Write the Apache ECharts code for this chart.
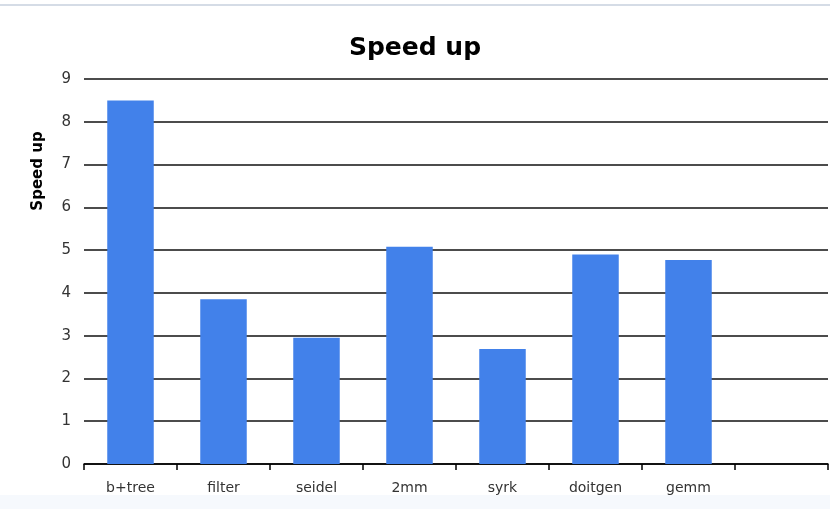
<!DOCTYPE html>
<html>
<head>
<meta charset="utf-8">
<script src="https://cdn.jsdelivr.net/npm/echarts@6/dist/echarts.min.js"></script>
<style>
  html, body { margin: 0; padding: 0; background: #ffffff; }
  #chart { width: 830px; height: 509px; }
</style>
</head>
<body>
<div id="chart"></div>
<script>
// Benchmarks (last slot intentionally left empty)
var categories = ['b+tree', 'filter', 'seidel', '2mm', 'syrk', 'doitgen', 'gemm', ''];
var speedup = [8.5, 3.85, 2.95, 5.08, 2.69, 4.9, 4.77, null];
var yTicks = [0, 9, 1];   // min, max, step

var FONT = 'DejaVu Sans';
var chart = echarts.init(document.getElementById('chart'), null, { renderer: 'canvas' });

chart.setOption({
  animation: false,
  backgroundColor: '#ffffff',
  title: {
    text: 'Speed up',
    left: 'center',
    top: 31,
    textStyle: { fontFamily: FONT, fontSize: 25, fontWeight: 'bold', color: '#000' }
  },
  graphic: [
    { type: 'rect', shape: { x: 0, y: 4, width: 830, height: 2 }, style: { fill: '#d5dce6' } },
    { type: 'rect', shape: { x: 0, y: 495, width: 830, height: 14 }, style: { fill: '#f6f9fd' }, z: -1 },
    {
      type: 'text', x: 38, y: 171, rotation: Math.PI / 2,
      style: {
        text: 'Speed up', fontFamily: FONT, fontSize: 15, fontWeight: 'bold',
        fill: '#000', align: 'center', verticalAlign: 'middle'
      }
    }
  ],
  grid: { left: 84, right: 2, top: 79, bottom: 45, containLabel: false },
  xAxis: {
    type: 'category',
    data: categories,
    boundaryGap: true,
    axisLine: { show: true, lineStyle: { color: '#000', width: 1.5 } },
    axisTick: { show: true, length: 6, inside: false, alignWithLabel: false, lineStyle: { color: '#000', width: 1.5 } },
    axisLabel: { color: '#333', fontFamily: FONT, fontSize: 14, margin: 17 },
    splitLine: { show: false }
  },
  yAxis: {
    type: 'value',
    min: yTicks[0], max: yTicks[1], interval: yTicks[2],
    axisLine: { show: false },
    axisTick: { show: false },
    axisLabel: { color: '#333', fontFamily: FONT, fontSize: 15, margin: 13 },
    splitLine: { show: true, lineStyle: { color: '#111', width: 1.5 } }
  },
  series: [{
    type: 'bar',
    data: speedup,
    barWidth: '50%',
    itemStyle: { color: '#4281ea' },
    z: 3
  }]
});
</script>
</body>
</html>
